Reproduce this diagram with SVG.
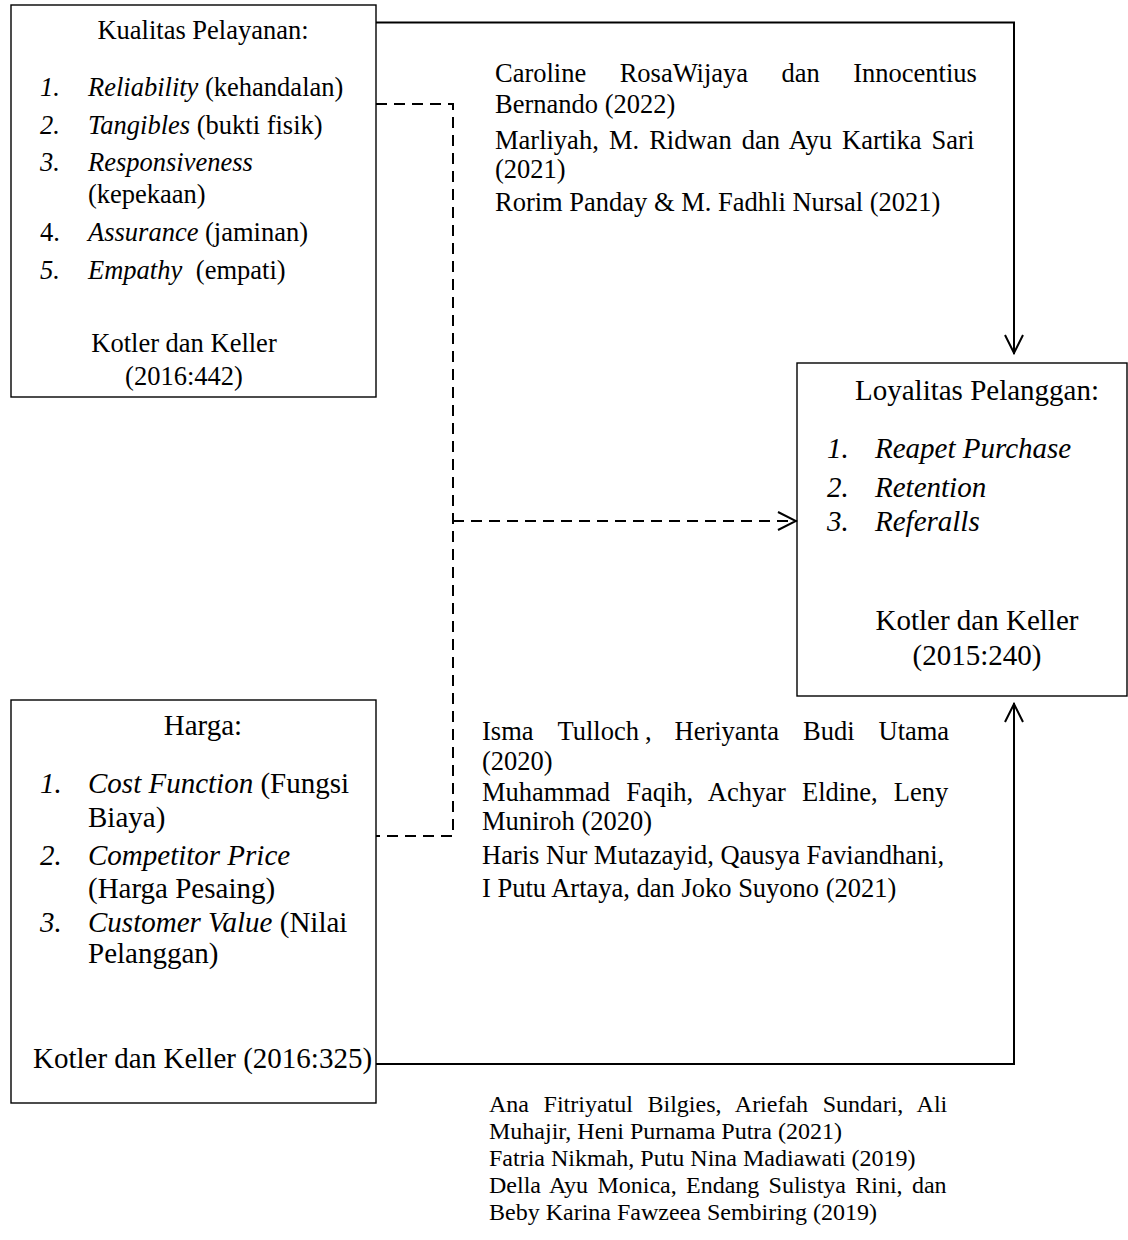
<svg xmlns="http://www.w3.org/2000/svg" width="1128" height="1240" viewBox="0 0 1128 1240">
<style>
.box{fill:none;stroke:#000;stroke-width:1.4}
.t{font-family:"Liberation Serif","Times New Roman",serif;fill:#000}
.a{font-size:26.5px}
.b{font-size:29px}
.c{font-size:24px}
.i{font-style:italic}
.m{text-anchor:middle}
.conn{fill:none;stroke:#000;stroke-width:2}
.dash{stroke-dasharray:11 7}
</style>
<defs>
<marker id="arr" viewBox="0 0 22 22" refX="21" refY="11" markerWidth="22" markerHeight="22" markerUnits="userSpaceOnUse" orient="auto">
<path d="M2,2 L20,11 L2,20" fill="none" stroke="#000" stroke-width="2"/>
</marker>
</defs>
<rect width="1128" height="1240" fill="#fff"/>
<g id="connectors">
<path class="conn" d="M376,22.5 H1014 V354" marker-end="url(#arr)"/>
<path class="conn" d="M376,1064 H1014 V703" marker-end="url(#arr)"/>
<path class="conn dash" d="M376,104 H453 V836 H376"/>
<path class="conn dash" d="M453,521 H797" marker-end="url(#arr)"/>
</g>
<g id="kualitas">
<rect class="box" x="11" y="5" width="365" height="392"/>
<g class="t a">
<text x="203" y="39" class="m">Kualitas Pelayanan:</text>
<text x="40" y="96" class="i">1.</text><text x="88" y="96"><tspan class="i">Reliability</tspan> (kehandalan)</text>
<text x="40" y="134" class="i">2.</text><text x="88" y="134"><tspan class="i">Tangibles</tspan> (bukti fisik)</text>
<text x="40" y="171" class="i">3.</text><text x="88" y="171" class="i">Responsiveness</text>
<text x="88" y="203">(kepekaan)</text>
<text x="40" y="241">4.</text><text x="88" y="241"><tspan class="i">Assurance</tspan> (jaminan)</text>
<text x="40" y="279" class="i">5.</text><text x="88" y="279"><tspan class="i">Empathy</tspan><tspan dx="7"> (empati)</tspan></text>
<text x="184" y="352" class="m">Kotler dan Keller</text>
<text x="184" y="385" class="m">(2016:442)</text>
</g>
</g>
<g id="harga">
<rect class="box" x="11" y="700" width="365" height="403"/>
<g class="t b">
<text x="203" y="735" class="m">Harga:</text>
<text x="40" y="793" class="i">1.</text><text x="88" y="793"><tspan class="i">Cost Function</tspan> (Fungsi</text>
<text x="88" y="827">Biaya)</text>
<text x="40" y="865" class="i">2.</text><text x="88" y="865" class="i">Competitor Price</text>
<text x="88" y="898">(Harga Pesaing)</text>
<text x="40" y="932" class="i">3.</text><text x="88" y="932"><tspan class="i">Customer Value</tspan> (Nilai</text>
<text x="88" y="963">Pelanggan)</text>
<text x="33" y="1068">Kotler dan Keller (2016:325)</text>
</g>
</g>
<g id="loyalitas">
<rect class="box" x="797" y="363" width="330" height="333"/>
<g class="t b">
<text x="977" y="400" class="m">Loyalitas Pelanggan:</text>
<text x="827" y="458" class="i">1.</text><text x="875" y="458" class="i">Reapet Purchase</text>
<text x="827" y="497" class="i">2.</text><text x="875" y="497" class="i">Retention</text>
<text x="827" y="531" class="i">3.</text><text x="875" y="531" class="i">Referalls</text>
<text x="977" y="630" class="m">Kotler dan Keller</text>
<text x="977" y="665" class="m">(2015:240)</text>
</g>
</g>
<g id="cite-top" class="t a">
<text x="495" y="82" word-spacing="26.8">Caroline RosaWijaya dan Innocentius</text>
<text x="495" y="113">Bernando (2022)</text>
<text x="495" y="149" word-spacing="3.5">Marliyah, M. Ridwan dan Ayu Kartika Sari</text>
<text x="495" y="178">(2021)</text>
<text x="495" y="211">Rorim Panday &amp; M. Fadhli Nursal (2021)</text>
</g>
<g id="cite-mid" class="t a">
<text y="740"><tspan x="482">Isma</tspan><tspan x="557.5">Tulloch</tspan><tspan x="644.9">,</tspan><tspan x="674.5">Heriyanta</tspan><tspan x="803">Budi</tspan><tspan x="878.5">Utama</tspan></text>
<text x="482" y="770">(2020)</text>
<text x="482" y="801" word-spacing="9.5">Muhammad Faqih, Achyar Eldine, Leny</text>
<text x="482" y="830">Muniroh (2020)</text>
<text x="482" y="864">Haris Nur Mutazayid, Qausya Faviandhani,</text>
<text x="482" y="897">I Putu Artaya, dan Joko Suyono (2021)</text>
</g>
<g id="cite-bottom" class="t c">
<text x="489" y="1112" word-spacing="8.6">Ana Fitriyatul Bilgies, Ariefah Sundari, Ali</text>
<text x="489" y="1139">Muhajir, Heni Purnama Putra (2021)</text>
<text x="489" y="1166">Fatria Nikmah, Putu Nina Madiawati (2019)</text>
<text x="489" y="1193" word-spacing="3.3">Della Ayu Monica, Endang Sulistya Rini, dan</text>
<text x="489" y="1220">Beby Karina Fawzeea Sembiring (2019)</text>
</g>
</svg>
